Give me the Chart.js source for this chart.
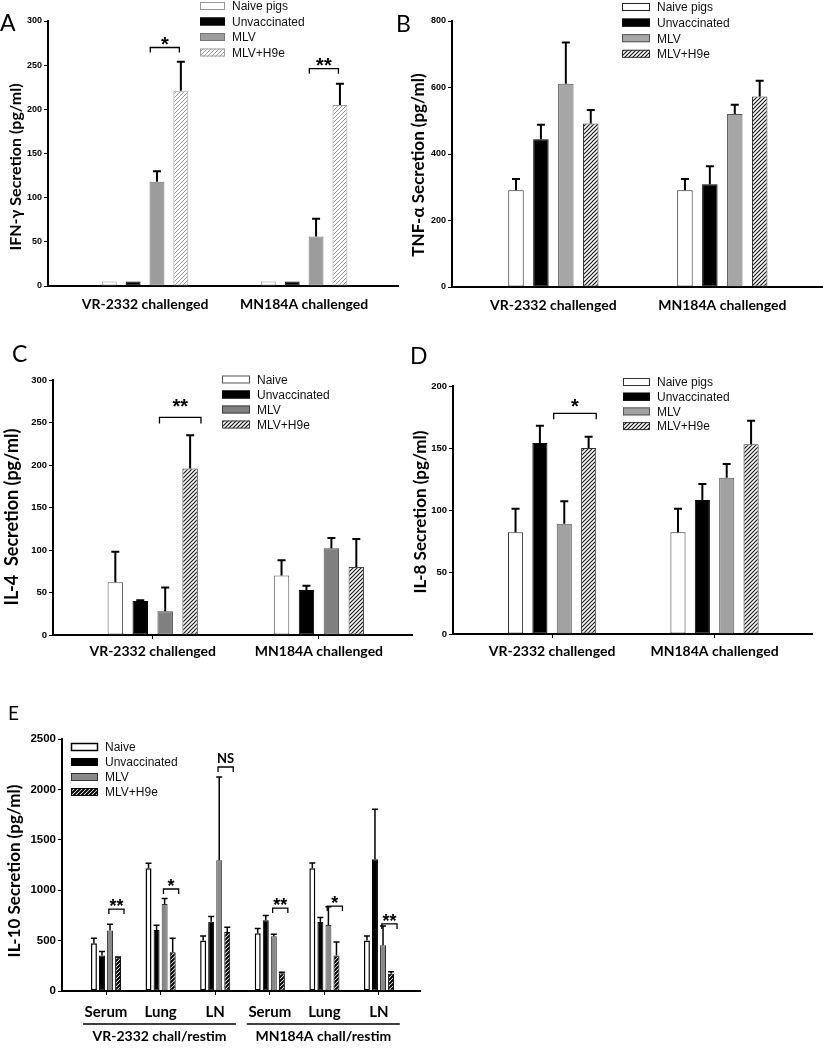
<!DOCTYPE html>
<html>
<head>
<meta charset="utf-8">
<script src="https://cdn.jsdelivr.net/npm/chart.js@4.4.0/dist/chart.umd.min.js"></script>
<style>
body { margin: 0; background: #fff; width: 823px; height: 1050px; position: relative; overflow: hidden; }
canvas { position: absolute; }
</style>
</head>
<body>
<canvas id="cA" style="left:0;top:0"></canvas>
<canvas id="cB" style="left:390px;top:0"></canvas>
<canvas id="cC" style="left:0;top:325px"></canvas>
<canvas id="cD" style="left:400px;top:325px"></canvas>
<canvas id="cE" style="left:0;top:665px"></canvas>
<script>
// categories
const challenge = ['VR-2332 challenged', 'MN184A challenged'];
const tissues = ['Serum', 'Lung', 'LN', 'Serum', 'Lung', 'LN'];
const restim = ['VR-2332 chall/restim', 'MN184A chall/restim'];
const groupsPigs = ['Naive pigs', 'Unvaccinated', 'MLV', 'MLV+H9e'];
const groupsShort = ['Naive', 'Unvaccinated', 'MLV', 'MLV+H9e'];

// A - IFN-gamma
const ifnNaive = [5, 5], ifnUnvac = [5, 5], ifnMlv = [118, 56], ifnH9e = [221, 205];
const ifnNaiveSe = [0, 0], ifnUnvacSe = [0, 0], ifnMlvSe = [12, 20], ifnH9eSe = [33, 24];
const ifnTicks = [0, 50, 100, 150, 200, 250, 300];
const ifnSig = [[0, 2, 3, 270, '*'], [1, 2, 3, 246, '**']];

// B - TNF-alpha
const tnfNaive = [291, 291], tnfUnvac = [444, 309], tnfMlv = [611, 520], tnfH9e = [492, 573];
const tnfNaiveSe = [34, 34], tnfUnvacSe = [44, 54], tnfMlvSe = [124, 28], tnfH9eSe = [40, 47];
const tnfTicks = [0, 200, 400, 600, 800];

// C - IL-4
const il4Naive = [62, 70], il4Unvac = [40, 53], il4Mlv = [28, 102], il4H9e = [196, 80];
const il4NaiveSe = [36, 18], il4UnvacSe = [1, 5], il4MlvSe = [28, 12], il4H9eSe = [39, 33];
const il4Ticks = [0, 50, 100, 150, 200, 250, 300];
const il4Sig = [[0, 2, 3, 256, '**']];

// D - IL-8
const il8Naive = [82, 82], il8Unvac = [154, 108], il8Mlv = [89, 126], il8H9e = [150, 153];
const il8NaiveSe = [19, 19], il8UnvacSe = [14, 13], il8MlvSe = [18, 11], il8H9eSe = [9, 19];
const il8Ticks = [0, 50, 100, 150, 200];
const il8Sig = [[0, 2, 3, 178, '*']];

// E - IL-10
const il10Naive = [473, 1218, 500, 573, 1218, 500];
const il10Unvac = [351, 606, 688, 702, 685, 1307];
const il10Mlv = [599, 864, 1298, 543, 655, 453];
const il10H9e = [334, 384, 586, 175, 351, 172];
const il10NaiveSe = [50, 50, 46, 46, 53, 46];
const il10UnvacSe = [40, 46, 50, 46, 43, 497];
const il10MlvSe = [63, 53, 824, 20, 182, 192];
const il10H9eSe = [3, 139, 46, 10, 136, 20];
const il10Ticks = [0, 500, 1000, 1500, 2000, 2500];
const il10Sig = [[0, 2, 3, 813, '**'], [1, 2, 3, 1012, '*'], [2, 2, 3, 2222, 'NS'],
                 [3, 2, 3, 823, '**'], [4, 2, 3, 843, '*'], [5, 2, 3, 665, '**']];

function hatch(color, size, lw) {
  const c = document.createElement('canvas');
  c.width = c.height = size;
  const g = c.getContext('2d');
  g.fillStyle = '#fff';
  g.fillRect(0, 0, size, size);
  g.strokeStyle = color;
  g.lineWidth = lw;
  g.beginPath();
  g.moveTo(-1, size + 1); g.lineTo(size + 1, -1);
  g.moveTo(-1, 1); g.lineTo(1, -1);
  g.moveTo(size - 1, size + 1); g.lineTo(size + 1, size - 1);
  g.stroke();
  return g.createPattern(c, 'repeat');
}
const lightHatch = hatch('#9a9a9a', 4, 1);
const darkHatch = hatch('#1a1a1a', 4, 1.2);
const denseHatch = hatch('#000', 4, 2);

const decor = {
  id: 'decor',
  afterDraw(chart, args, o) {
    const ctx = chart.ctx, ys = chart.scales.y, xs = chart.scales.x;
    ctx.save();
    // error bars (upper only)
    ctx.strokeStyle = '#000';
    ctx.lineWidth = o.errW;
    chart.data.datasets.forEach((ds, i) => {
      chart.getDatasetMeta(i).data.forEach((bar, j) => {
        const e = ds.errors[j];
        if (!e) return;
        const top = ys.getPixelForValue(ds.data[j].y + e);
        ctx.beginPath();
        ctx.moveTo(bar.x, bar.y);
        ctx.lineTo(bar.x, top);
        ctx.moveTo(bar.x - o.cap / 2, top);
        ctx.lineTo(bar.x + o.cap / 2, top);
        ctx.stroke();
      });
    });
    // significance brackets
    ctx.lineWidth = 1.3;
    (o.sig || []).forEach(([g, a, b, v, txt]) => {
      const ba = chart.getDatasetMeta(a).data[g], bb = chart.getDatasetMeta(b).data[g];
      const x1 = ba.x + o.br[0] * ba.width, x2 = bb.x + o.br[1] * bb.width;
      const yy = ys.getPixelForValue(v);
      ctx.beginPath();
      ctx.moveTo(x1, yy + o.leg); ctx.lineTo(x1, yy); ctx.lineTo(x2, yy); ctx.lineTo(x2, yy + o.leg);
      ctx.stroke();
      ctx.fillStyle = '#000';
      ctx.textAlign = 'center';
      if (txt === 'NS') {
        ctx.font = 'bold 13px Lato';
        ctx.textBaseline = 'alphabetic';
        ctx.fillText(txt, (x1 + x2) / 2, yy - 4);
      } else {
        ctx.font = 'bold ' + o.starSize + 'px "Liberation Sans"';
        ctx.textBaseline = 'alphabetic';
        ctx.fillText(txt, (x1 + x2) / 2, yy - o.starGap + 0.58 * o.starSize);
      }
    });
    // legend
    ctx.textAlign = 'left';
    ctx.textBaseline = 'middle';
    ctx.font = '12px "Liberation Sans"';
    o.names.forEach((n, i) => {
      const st = o.styles[i];
      const lx = o.leg0[0], ly = o.leg0[1] + i * o.leg0[2];
      ctx.fillStyle = st.bg;
      ctx.fillRect(lx, ly - 4, o.leg0[3], 8);
      ctx.strokeStyle = st.line;
      ctx.lineWidth = st.bw || 1;
      ctx.strokeRect(lx + 0.5, ly - 3.5, o.leg0[3] - 1, 7);
      ctx.fillStyle = '#111';
      ctx.fillText(n, lx + o.leg0[3] + 7, ly + 1);
    });
    // y title
    ctx.fillStyle = '#000';
    ctx.font = 'bold ' + o.titleSize + 'px Lato';
    ctx.textAlign = 'center';
    ctx.textBaseline = 'middle';
    ctx.translate(o.titlePos[0], o.titlePos[1]);
    ctx.rotate(-Math.PI / 2);
    ctx.fillText(o.title, 0, 0);
    ctx.setTransform(1, 0, 0, 1, 0, 0);
    // panel letter
    ctx.font = o.letterSize + 'px Lato';
    ctx.textAlign = 'left';
    ctx.textBaseline = 'alphabetic';
    ctx.fillText(o.letter, o.letterPos[0], o.letterPos[1]);
    // group lines under the tissue labels
    if (o.groups) {
      const unit = xs.getPixelForValue(1) - xs.getPixelForValue(0);
      ctx.lineWidth = 1.5;
      ctx.font = 'bold 14px Lato';
      ctx.textAlign = 'center';
      o.groups.forEach((gname, k) => {
        const xa = xs.getPixelForValue(k * 3) - 0.42 * unit;
        const xb = xs.getPixelForValue(k * 3 + 2) + 0.38 * unit;
        ctx.beginPath();
        ctx.moveTo(xa, o.groupY); ctx.lineTo(xb, o.groupY);
        ctx.stroke();
        ctx.fillText(gname, (xa + xb) / 2, o.groupY + 17);
      });
    }
    ctx.restore();
  }
};

function panel(id, cfg) {
  const cv = document.getElementById(id);
  cv.width = cfg.w;
  cv.height = cfg.h;
  const datasets = cfg.series.map((vals, i) => ({
    label: cfg.names[i],
    data: vals.map((v, j) => ({ x: j, y: v })),
    errors: cfg.errors[i],
    backgroundColor: cfg.styles[i].bg,
    borderColor: cfg.styles[i].line,
    borderWidth: cfg.styles[i].bw || 1,
    borderSkipped: false,
    categoryPercentage: cfg.cat,
    barPercentage: cfg.bar
  }));
  const t = cfg.ticks;
  new Chart(cv, {
    type: 'bar',
    data: { datasets },
    options: {
      responsive: false,
      animation: false,
      devicePixelRatio: 1,
      layout: { padding: { top: cfg.area[1], right: cfg.w - cfg.area[2], left: 0, bottom: 0 } },
      plugins: { legend: { display: false }, tooltip: { enabled: false }, decor: cfg },
      scales: {
        x: {
          type: 'linear', min: cfg.xr[0], max: cfg.xr[1], offset: false,
          // one tick per category
          afterBuildTicks: s => { s.ticks = cfg.cats.map((c, i) => ({ value: i })); },
          afterFit: s => { s.height = cfg.h - cfg.area[3]; },
          ticks: {
            autoSkip: false, maxRotation: 0, color: '#000', padding: cfg.xPad,
            font: { family: 'Lato', weight: 'bold', size: cfg.xFont },
            callback: v => cfg.cats[v] || ''
          },
          grid: { offset: false, drawOnChartArea: false, drawTicks: cfg.xTicks, tickLength: 4, color: '#000' },
          border: { display: true, color: '#000', width: 2 }
        },
        y: {
          min: t[0], max: t[t.length - 1],
          afterFit: s => { s.width = cfg.area[0]; },
          ticks: {
            stepSize: t[1] - t[0], color: '#000', padding: 2,
            font: { family: 'Liberation Sans', weight: 'bold', size: cfg.yFont },
            callback: v => String(v)
          },
          grid: { drawOnChartArea: false, tickLength: 4, color: '#000' },
          border: { display: true, color: '#000', width: 2 }
        }
      }
    },
    plugins: [decor]
  });
}

const stA = [
  { bg: '#fff', line: '#999' },
  { bg: '#000', line: '#000' },
  { bg: '#9c9c9c', line: '#777' },
  { bg: lightHatch, line: '#a0a0a0' }
];
const stB = [
  { bg: '#fff', line: '#222' },
  { bg: '#000', line: '#000' },
  { bg: '#a6a6a6', line: '#555' },
  { bg: darkHatch, line: '#333' }
];
const stC = [
  { bg: '#fff', line: '#555' },
  { bg: '#000', line: '#000' },
  { bg: '#808080', line: '#444' },
  { bg: darkHatch, line: '#444' }
];
const stD = [
  { bg: '#fff', line: '#333' },
  { bg: '#000', line: '#000' },
  { bg: '#a2a2a2', line: '#555' },
  { bg: darkHatch, line: '#333' }
];
const stE = [
  { bg: '#fff', line: '#000', bw: 1.5 },
  { bg: '#000', line: '#000' },
  { bg: '#888', line: '#333' },
  { bg: denseHatch, line: '#000' }
];

panel('cA', {
  w: 400, h: 325, area: [48, 21, 398, 286], xr: [-0.61, 1.59], cat: 0.6, bar: 0.625,
  cats: challenge, names: groupsPigs, styles: stA, ticks: ifnTicks,
  series: [ifnNaive, ifnUnvac, ifnMlv, ifnH9e], errors: [ifnNaiveSe, ifnUnvacSe, ifnMlvSe, ifnH9eSe],
  sig: ifnSig, br: [-0.45, -0.1], leg: 5, starGap: 8, starSize: 20,
  xPad: 10, xFont: 14, xTicks: false, yFont: 9, errW: 2, cap: 8,
  leg0: [200, 6, 15.5, 25], title: 'IFN-\u03b3 Secretion (pg/ml)', titleSize: 16, titlePos: [16, 167],
  letter: 'A', letterSize: 23, letterPos: [0, 31]
});
panel('cB', {
  w: 433, h: 325, area: [62, 21, 432, 287], xr: [-0.6, 1.59], cat: 0.59, bar: 0.62,
  cats: challenge, names: groupsPigs, styles: stB, ticks: tnfTicks,
  series: [tnfNaive, tnfUnvac, tnfMlv, tnfH9e], errors: [tnfNaiveSe, tnfUnvacSe, tnfMlvSe, tnfH9eSe],
  sig: [], br: [0, 0], leg: 5, starGap: 8, starSize: 20,
  xPad: 10, xFont: 14, xTicks: false, yFont: 9, errW: 2, cap: 8,
  leg0: [232, 7, 15.6, 28], title: 'TNF-\u03b1 Secretion (pg/ml)', titleSize: 17, titlePos: [29, 165],
  letter: 'B', letterSize: 23, letterPos: [6, 32]
});
panel('cC', {
  w: 415, h: 335, area: [53, 55, 412, 310], xr: [-0.6, 1.56], cat: 0.6, bar: 0.62,
  cats: challenge, names: groupsShort, styles: stC, ticks: il4Ticks,
  series: [il4Naive, il4Unvac, il4Mlv, il4H9e], errors: [il4NaiveSe, il4UnvacSe, il4MlvSe, il4H9eSe],
  sig: il4Sig, br: [-0.37, 0.7], leg: 6, starGap: 16, starSize: 20,
  xPad: 4, xFont: 14, xTicks: true, yFont: 9.5, errW: 2, cap: 8,
  leg0: [222, 54.5, 15, 28], title: 'IL-4  Secretion (pg/ml)', titleSize: 18, titlePos: [12, 192],
  letter: 'C', letterSize: 23, letterPos: [12, 37]
});
panel('cD', {
  w: 423, h: 335, area: [53, 61, 412, 309], xr: [-0.61, 1.6], cat: 0.6, bar: 0.62,
  cats: challenge, names: groupsPigs, styles: stD, ticks: il8Ticks,
  series: [il8Naive, il8Unvac, il8Mlv, il8H9e], errors: [il8NaiveSe, il8UnvacSe, il8MlvSe, il8H9eSe],
  sig: il8Sig, br: [-0.7, 0.5], leg: 6, starGap: 12, starSize: 20,
  xPad: 5, xFont: 14, xTicks: true, yFont: 9.5, errW: 2, cap: 8,
  leg0: [223, 57, 14.7, 27], title: 'IL-8 Secretion (pg/ml)', titleSize: 17, titlePos: [21, 187],
  letter: 'D', letterSize: 23, letterPos: [10, 39]
});
panel('cE', {
  w: 430, h: 385, area: [62, 74, 420, 326], xr: [-0.806, 5.751], cat: 0.59, bar: 0.74,
  cats: tissues, names: groupsShort, styles: stE, ticks: il10Ticks,
  series: [il10Naive, il10Unvac, il10Mlv, il10H9e], errors: [il10NaiveSe, il10UnvacSe, il10MlvSe, il10H9eSe],
  sig: il10Sig, br: [-0.2, 1.0], leg: 5, starGap: 7, starSize: 18,
  xPad: 8, xFont: 15, xTicks: true, yFont: 11.5, errW: 1.5, cap: 6,
  leg0: [71, 82, 15, 27], title: 'IL-10 Secretion (pg/ml)', titleSize: 17, titlePos: [15, 206],
  letter: 'E', letterSize: 19, letterPos: [8, 55],
  groups: restim, groupY: 359
});
</script>
</body>
</html>
